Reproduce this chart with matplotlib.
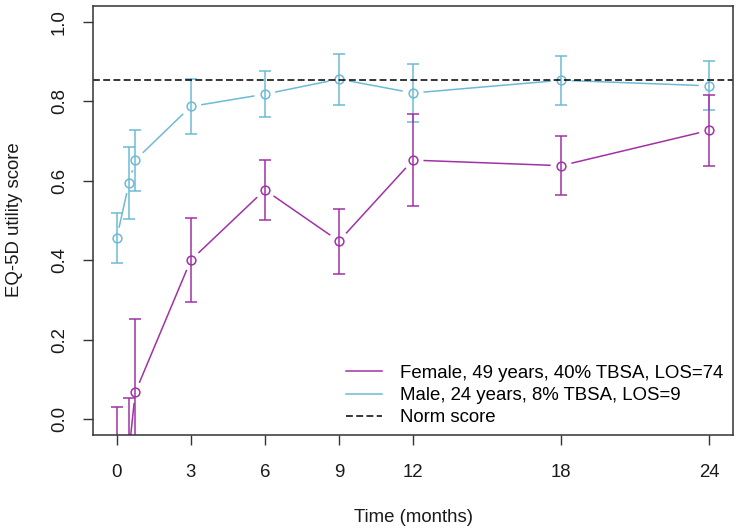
import numpy as np
import matplotlib
matplotlib.use("Agg")
import matplotlib.pyplot as plt

# ---- data ----
time_months = [0, 0.5, 0.75, 3, 6, 9, 12, 18, 24]
female_mean = [-0.12, -0.08, 0.067, 0.400, 0.577, 0.448, 0.652, 0.638, 0.727]
female_err = [0.150, 0.132, 0.184, 0.106, 0.076, 0.082, 0.116, 0.074, 0.089]
male_mean = [0.456, 0.595, 0.652, 0.787, 0.818, 0.856, 0.821, 0.853, 0.839]
male_err = [0.064, 0.091, 0.077, 0.068, 0.058, 0.064, 0.072, 0.061, 0.062]
norm_score = 0.854
x_ticks = [0, 3, 6, 9, 12, 18, 24]
y_ticks = [0.0, 0.2, 0.4, 0.6, 0.8, 1.0]
female_label = "Female, 49 years, 40% TBSA, LOS=74"
male_label = "Male, 24 years, 8% TBSA, LOS=9"
norm_label = "Norm score"

PURPLE = "#A032A6"
BLUE = "#6DBAD6"
FS = 13.4
plt.rcParams['font.family'] = ['Liberation Sans', 'DejaVu Sans']

fig = plt.figure(figsize=(7.4, 5.3), dpi=100)
ax = fig.add_axes([93/740, 1-435/530, 640/740, 429/530])
ax.set_xlim(-0.96, 24.96)
ax.set_ylim(-0.04, 1.04)

LW = 1.1
GAP = 10.5  # pixels, like R type="b"


def draw_b(x, y, color, label):
    pts = ax.transData.transform(np.column_stack([x, y]))
    inv = ax.transData.inverted()
    for i in range(len(pts) - 1):
        p0, p1 = pts[i], pts[i + 1]
        d = p1 - p0
        L = np.hypot(*d)
        if L <= 2 * GAP:
            continue
        u = d / L
        a = inv.transform(p0 + u * GAP)
        b = inv.transform(p1 - u * GAP)
        ax.plot([a[0], b[0]], [a[1], b[1]], color=color, lw=LW, solid_capstyle='butt')
    ax.plot(x, y, linestyle='none', marker='o', markersize=6.3, markerfacecolor='none',
            markeredgecolor=color, markeredgewidth=LW)
    ax.plot([], [], color=color, lw=LW, label=label)


def draw_err(x, y, e, color):
    ax.errorbar(x, y, yerr=e, fmt='none', ecolor=color, elinewidth=LW,
                capsize=4.3, capthick=LW)


# male first, female on top
draw_b(time_months, male_mean, BLUE, male_label)
draw_err(time_months, male_mean, male_err, BLUE)
draw_b(time_months, female_mean, PURPLE, female_label)
draw_err(time_months, female_mean, female_err, PURPLE)

ax.axhline(norm_score, color='black', lw=LW, linestyle=(0, (4.5, 2.2)), label=norm_label)

# legend in order female, male, norm
handles, labels = ax.get_legend_handles_labels()
order = [labels.index(female_label), labels.index(male_label), labels.index(norm_label)]
ax.legend([handles[i] for i in order], [labels[i] for i in order],
          loc='lower right', bbox_to_anchor=(0.985, 0.02), frameon=False,
          fontsize=FS, handlelength=1.9, handletextpad=1.0, labelspacing=0.28,
          borderpad=0, borderaxespad=0)

ax.set_xticks(x_ticks)
ax.set_xticklabels([str(t) for t in x_ticks])
ax.set_yticks(y_ticks)
ax.set_yticklabels([f"{t:.1f}" for t in y_ticks], rotation=90, va='center')
ax.tick_params(axis='both', direction='out', length=7, width=1.0, labelsize=FS,
               color='#333333', labelcolor='#1a1a1a')
ax.tick_params(axis='x', pad=14)
ax.tick_params(axis='y', pad=11)
for s in ax.spines.values():
    s.set_linewidth(1.1)
    s.set_color('#333333')

fig.text((93+733)/2/740, 1-517/530, "Time (months)", ha='center', va='center',
         fontsize=FS, color='#1a1a1a')
fig.text(15/740, 1-220/530, "EQ-5D utility score", ha='center', va='center',
         rotation=90, fontsize=FS, color='#1a1a1a')

fig.savefig("out.png", dpi=100)
